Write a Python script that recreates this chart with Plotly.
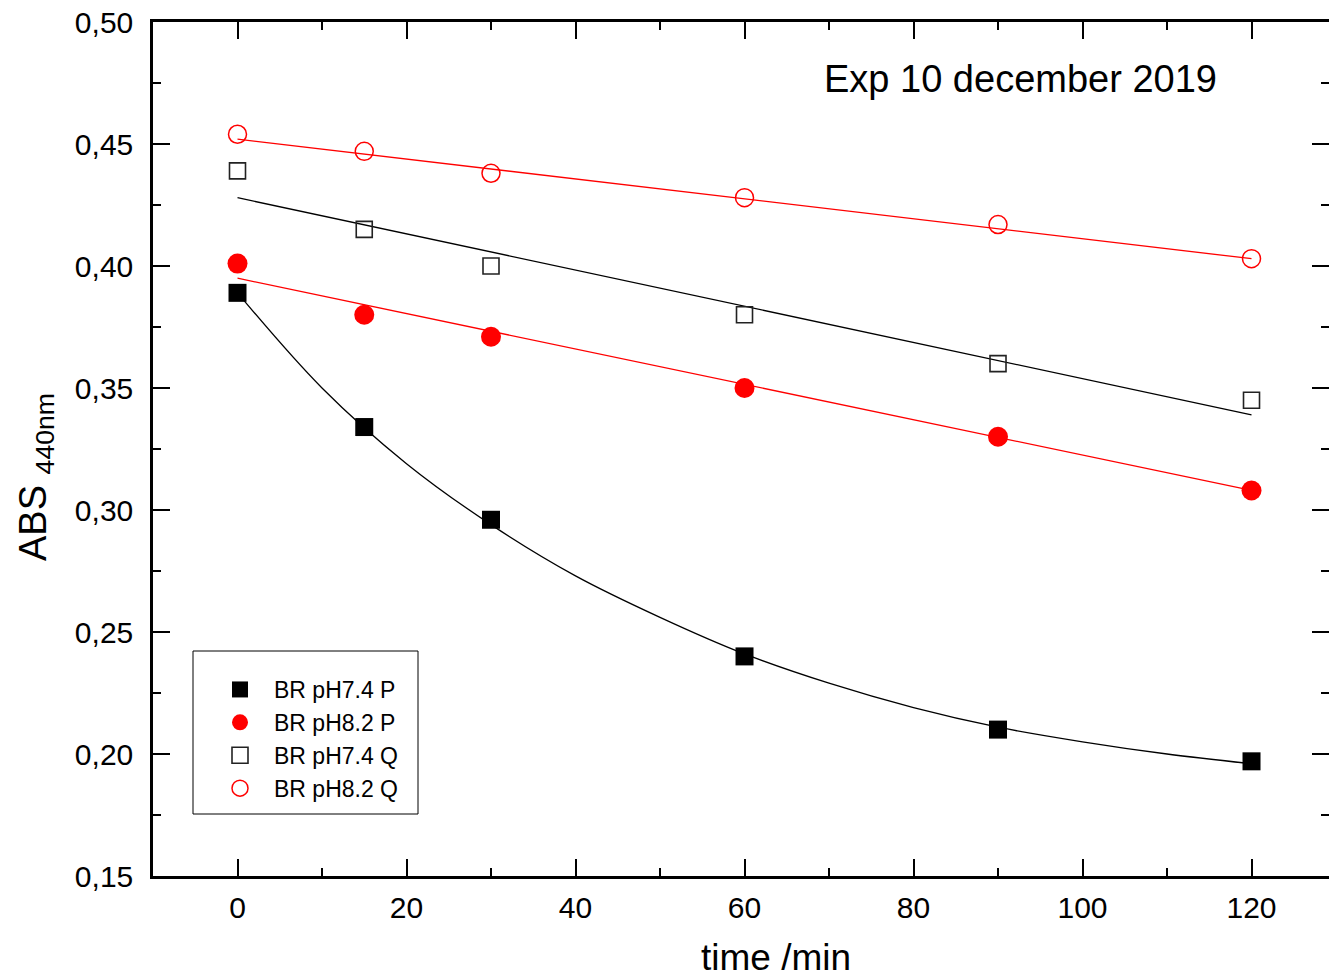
import plotly.graph_objects as go

# ---- data ----
time_min = [0, 15, 30, 60, 90, 120]

br74_P = [0.389, 0.334, 0.296, 0.240, 0.210, 0.197]
br82_P = [0.401, 0.380, 0.371, 0.350, 0.330, 0.308]
br74_Q = [0.439, 0.415, 0.400, 0.380, 0.360, 0.345]
br82_Q = [0.454, 0.447, 0.438, 0.428, 0.417, 0.403]

# fitted curves
fit_t_curve = [0, 10, 20, 30, 40, 50, 60, 70, 80, 90, 100, 110, 120]
fit_br74_P = [0.389, 0.350, 0.319, 0.294, 0.273, 0.256, 0.241, 0.229, 0.219, 0.211, 0.205, 0.200, 0.196]
fit_t_line = [0, 120]
fit_br82_P = [0.395, 0.308]
fit_br74_Q = [0.428, 0.339]
fit_br82_Q = [0.452, 0.403]

x_ticks = [0, 20, 40, 60, 80, 100, 120]
y_ticks = [0.15, 0.20, 0.25, 0.30, 0.35, 0.40, 0.45, 0.50]

FONT = "Liberation Sans, Arial, sans-serif"
RED = "#ff0000"
BLACK = "#000000"

fig = go.Figure()

# fit lines (no legend)
fig.add_trace(go.Scatter(x=fit_t_curve, y=fit_br74_P, mode="lines",
                         line=dict(color=BLACK, width=1.3, shape="spline"),
                         showlegend=False, hoverinfo="skip"))
fig.add_trace(go.Scatter(x=fit_t_line, y=fit_br82_P, mode="lines",
                         line=dict(color=RED, width=1.3), showlegend=False, hoverinfo="skip"))
fig.add_trace(go.Scatter(x=fit_t_line, y=fit_br74_Q, mode="lines",
                         line=dict(color=BLACK, width=1.3), showlegend=False, hoverinfo="skip"))
fig.add_trace(go.Scatter(x=fit_t_line, y=fit_br82_Q, mode="lines",
                         line=dict(color=RED, width=1.3), showlegend=False, hoverinfo="skip"))

# markers
fig.add_trace(go.Scatter(x=time_min, y=br74_P, mode="markers", name="BR pH7.4 P",
                         marker=dict(symbol="square", size=18, color=BLACK)))
fig.add_trace(go.Scatter(x=time_min, y=br82_P, mode="markers", name="BR pH8.2 P",
                         marker=dict(symbol="circle", size=20, color=RED)))
fig.add_trace(go.Scatter(x=time_min, y=br74_Q, mode="markers", name="BR pH7.4 Q",
                         marker=dict(symbol="square-open", size=16, color="#222222",
                                     line=dict(width=1.6, color="#222222"))))
fig.add_trace(go.Scatter(x=time_min, y=br82_Q, mode="markers", name="BR pH8.2 Q",
                         marker=dict(symbol="circle-open", size=18, color=RED,
                                     line=dict(width=1.5, color=RED))))

L, R, T, B = 153, 1, 22, 103
W, H = 1330, 979
pw = W - L - R
ph = H - T - B

def px_x(p):
    return (p - L) / pw

def px_y(p):
    return (H - B - p) / ph

axis_common = dict(
    showline=True, linecolor=BLACK, linewidth=2.5,
    ticks="inside", ticklen=17, tickwidth=2, tickcolor=BLACK,
    showgrid=False, zeroline=False,
    tickfont=dict(family=FONT, size=30, color=BLACK),
)

fig.update_layout(
    width=W, height=H,
    margin=dict(l=L, r=R, t=T, b=B, pad=0),
    paper_bgcolor="white", plot_bgcolor="white",
    separators=",.",
    font=dict(family=FONT, color=BLACK),
    xaxis=dict(range=[-10, 129.17], tickvals=x_ticks, mirror="ticks", ticklabelstandoff=3,
               minor=dict(ticks="inside", ticklen=8, tickwidth=2, tickcolor=BLACK, dtick=10, tick0=0),
               **axis_common),
    yaxis=dict(range=[0.15, 0.50], tickvals=y_ticks, tickformat=".2f", mirror=False,
               ticklabelstandoff=11,
               minor=dict(ticks="inside", ticklen=8, tickwidth=2, tickcolor=BLACK, dtick=0.025, tick0=0.15),
               **axis_common),
    yaxis2=dict(range=[0.15, 0.50], overlaying="y", side="right", anchor="x",
                showline=False, showticklabels=False, showgrid=False, zeroline=False,
                tickvals=y_ticks, ticks="inside", ticklen=17, tickwidth=2, tickcolor=BLACK,
                minor=dict(ticks="inside", ticklen=8, tickwidth=2, tickcolor=BLACK, dtick=0.025, tick0=0.15)),
    legend=dict(x=px_x(206), y=px_y(668), xanchor="left", yanchor="top",
                borderwidth=0, bgcolor="rgba(0,0,0,0)",
                itemwidth=58,
                font=dict(family=FONT, size=23, color=BLACK),
                tracegroupgap=0),
    shapes=[
        dict(type="rect", xref="paper", yref="paper",
             x0=px_x(193), x1=px_x(418), y0=px_y(814), y1=px_y(651),
             line=dict(color=BLACK, width=1), fillcolor="white", layer="below"),
    ],
    annotations=[
        dict(text="Exp 10 december 2019", xref="paper", yref="paper",
             x=px_x(1020), y=px_y(79), xanchor="center", yanchor="middle", showarrow=False,
             font=dict(family=FONT, size=38, color=BLACK)),
        dict(text="time /min", xref="paper", yref="paper",
             x=px_x(776), y=px_y(957), xanchor="center", yanchor="middle", showarrow=False,
             font=dict(family=FONT, size=37, color=BLACK)),
        dict(text="ABS <sub>440nm</sub>", xref="paper", yref="paper",
             x=px_x(36), y=px_y(477), xanchor="center", yanchor="middle",
             showarrow=False, textangle=-90,
             font=dict(family=FONT, size=38, color=BLACK)),
    ],
)

# invisible trace to hold the mirrored right-hand tick axis
fig.add_trace(go.Scatter(x=[None], y=[None], yaxis="y2", showlegend=False, hoverinfo="skip"))

fig.write_html("out.html")
